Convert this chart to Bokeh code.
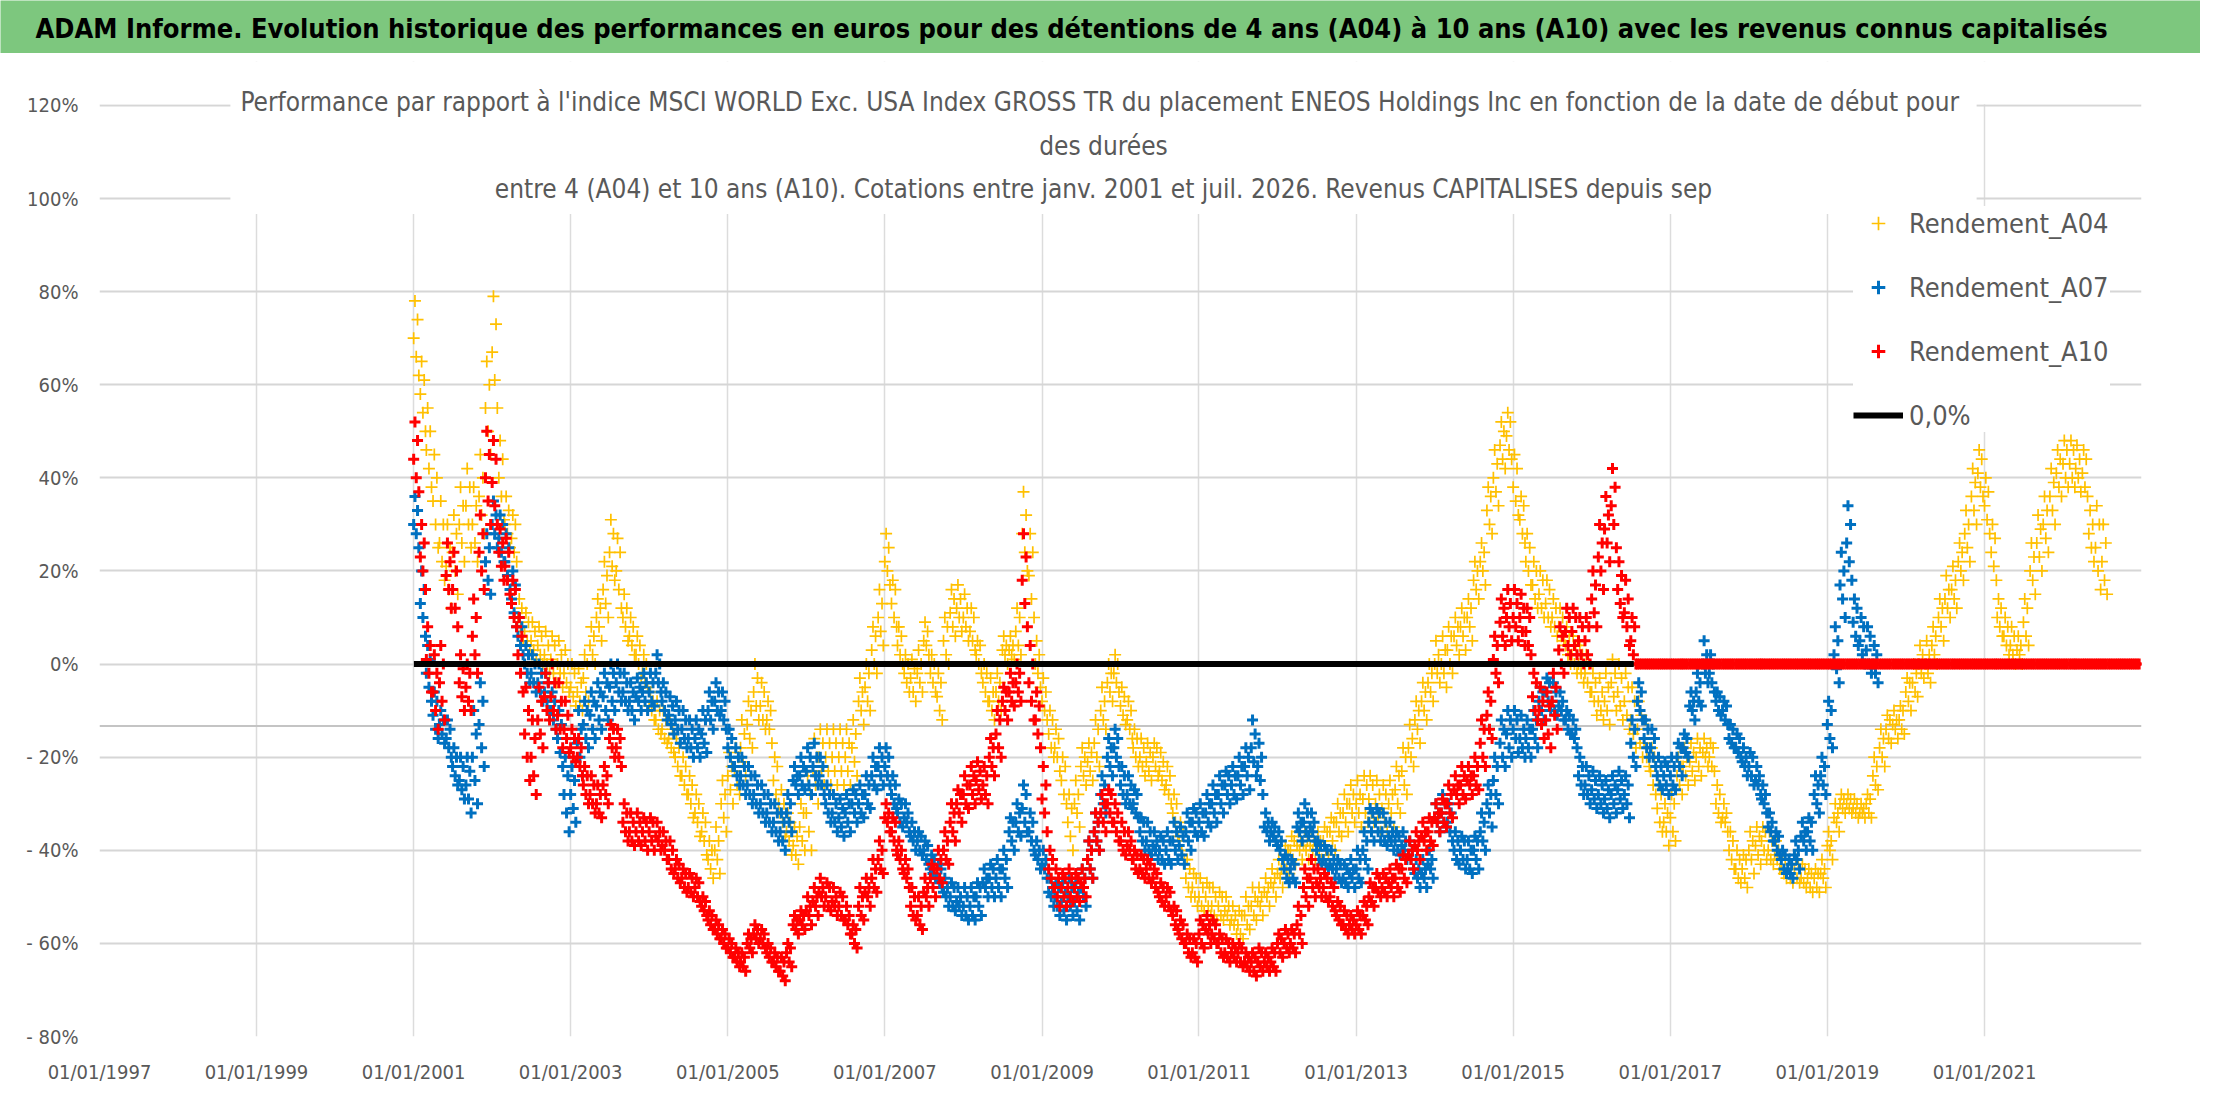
import pandas as pd
from bokeh.plotting import figure
from bokeh.layouts import column
from bokeh.models import (Range1d, FixedTicker, DatetimeTickFormatter, Label, BoxAnnotation,
                          Legend, LegendItem, Span, ColumnDataSource)
from bokeh.embed import file_html
from bokeh.resources import INLINE

FONT = "DejaVu Sans Condensed"
GREEN = "#7dc77e"
GREY_TXT = "#595959"
YELLOW, BLUE, RED = "#FFC000", "#0070C0", "#FF0000"

title_txt = ("ADAM Informe. Evolution historique des performances en euros pour des "
             "détentions de 4 ans (A04) à 10 ans (A10) avec les revenus connus capitalisés")
sub_txt = ("Performance par rapport à l'indice MSCI WORLD Exc. USA Index GROSS TR  du placement "
           "ENEOS Holdings Inc en fonction de la date de début pour\ndes durées\n"
           "entre 4 (A04) et 10 ans (A10). Cotations entre janv. 2001 et juil. 2026. "
           "Revenus CAPITALISES depuis sep")

y_ticks = [-80, -60, -40, -20, 0, 20, 40, 60, 80, 100, 120]
y_labels = ["- 80%", "- 60%", "- 40%", "- 20%", "0%", "20%", "40%", "60%", "80%", "100%", "120%"]
x_tick_years = [1997, 1999, 2001, 2003, 2005, 2007, 2009, 2011, 2013, 2015, 2017, 2019, 2021]

# monthly readings (%) across the height of each cloud: top, upper, middle, lower, bottom.
# first month = 2001-01, one row per year
a04_hi = [
    78, 65, 55, 45, 35, 30, 32, 38, 42, 38, 45, 65,
    79, 48, 36, 32, 14, 11, 9, 8, 7, 6, 5, 3,
    0, -1, 2, 8, 14, 22, 31, 27, 15, 10, 6, 2,
    -6, -8, -10, -12, -16, -20, -24, -28, -32, -38, -35, -25,
    -19, -18, -12, -8, 0, -4, -8, -20, -27, -32, -35, -30,
    -24, -16, -14, -14, -14, -14, -14, -12, -3, 0, 8, 16,
    28, 18, 8, 2, 1, 3, 9, 2, -2, 10, 16, 17,
    15, 12, 5, 0, -3, -2, 6, 6, 12, 37, 28, 5,
    -3, -10, -14, -20, -28, -25, -18, -17, -12, -5, 0, 2,
    -5, -8, -14, -16, -17, -17, -19, -22, -28, -34, -42, -45,
    -46, -47, -48, -49, -50, -52, -53, -50, -48, -48, -46, -44,
    -42, -39, -37, -36, -36, -36, -36, -35, -33, -30, -28, -26,
    -25, -24, -24, -25, -26, -25, -22, -18, -13, -8, -4, 0,
    5, 6, 8, 10, 12, 14, 22, 26, 38, 46, 52, 54,
    45, 36, 28, 22, 20, 18, 14, 12, 8, 6, 4, 2,
    -2, -3, -2, 1, 0, -2, -5, -8, -12, -18, -26, -30,
    -28, -20, -18, -17, -16, -16, -17, -26, -30, -36, -40, -41,
    -36, -35, -35, -36, -38, -41, -42, -42, -43, -44, -44, -42,
    -36, -30, -28, -28, -29, -30, -28, -20, -14, -11, -10, -9,
    -3, 0, 4, 5, 8, 14, 19, 21, 26, 33, 42, 46,
    40, 30, 14, 10, 8, 6, 14, 26, 32, 36, 42, 46,
    48, 48, 47, 46, 33, 34, 30,
]
a04_uq = [
    74, 61, 50, 40, 30, 25, 28, 34, 38, 34, 40, 60,
    73, 44, 33, 30, 12, 9, 7, 6, 4, 4, 2, 0,
    -2, -4, 0, 6, 12, 19, 28, 24, 12, 8, 4, 0,
    -8, -10, -12, -14, -18, -22, -26, -30, -34, -40, -38, -28,
    -22, -20, -15, -10, -3, -6, -10, -22, -30, -34, -37, -32,
    -28, -20, -17, -17, -17, -17, -17, -15, -6, -2, 6, 13,
    25, 16, 6, 0, -1, 0, 7, 0, -4, 8, 14, 14,
    12, 10, 4, -2, -6, -4, 4, 4, 10, 32, 24, 2,
    -6, -12, -16, -22, -31, -28, -20, -19, -14, -8, -2, 0,
    -7, -10, -16, -18, -19, -18, -21, -24, -30, -36, -44, -46,
    -48, -48, -50, -50, -52, -54, -54, -52, -50, -50, -48, -46,
    -44, -40, -38, -38, -38, -38, -38, -36, -34, -32, -30, -28,
    -28, -26, -26, -28, -28, -28, -24, -20, -16, -10, -6, -2,
    2, 3, 6, 8, 10, 12, 20, 24, 36, 43, 50, 52,
    42, 34, 25, 20, 18, 16, 12, 10, 6, 4, 2, 0,
    -4, -6, -5, -2, -3, -5, -8, -11, -14, -20, -28, -32,
    -30, -22, -20, -19, -18, -18, -18, -28, -32, -38, -42, -42,
    -38, -37, -36, -38, -40, -42, -43, -43, -44, -45, -45, -44,
    -38, -32, -29, -29, -30, -31, -29, -22, -16, -12, -12, -10,
    -4, -2, 2, 2, 6, 12, 16, 18, 24, 30, 39, 44,
    37, 27, 12, 8, 6, 4, 12, 23, 29, 33, 39, 44,
    46, 46, 44, 44, 30, 30, 26,
]
a04_mid = [
    70, 58, 46, 35, 26, 21, 24, 30, 34, 30, 36, 55,
    67, 40, 30, 27, 10, 7, 5, 4, 2, 1, 0, -2,
    -5, -6, -3, 4, 10, 16, 24, 20, 10, 6, 2, -2,
    -9, -12, -14, -16, -20, -24, -28, -32, -36, -42, -40, -30,
    -24, -23, -18, -13, -6, -9, -12, -25, -32, -36, -39, -35,
    -32, -23, -20, -20, -20, -20, -20, -18, -8, -5, 3, 10,
    22, 13, 4, -2, -3, -2, 5, -2, -7, 5, 11, 12,
    10, 7, 2, -4, -8, -6, 3, 3, 7, 28, 19, 0,
    -8, -15, -18, -25, -34, -30, -22, -21, -17, -10, -4, -2,
    -9, -12, -18, -20, -21, -20, -23, -26, -32, -38, -46, -48,
    -50, -50, -52, -52, -53, -55, -56, -54, -52, -51, -49, -47,
    -45, -42, -40, -39, -39, -39, -39, -38, -36, -34, -32, -30,
    -30, -29, -29, -30, -31, -30, -27, -23, -18, -12, -8, -4,
    0, 0, 3, 6, 8, 10, 18, 22, 33, 40, 47, 49,
    38, 31, 22, 17, 15, 13, 10, 8, 4, 2, 0, -2,
    -6, -8, -8, -4, -6, -8, -12, -14, -17, -23, -31, -34,
    -33, -24, -22, -21, -20, -19, -20, -30, -33, -40, -44, -44,
    -40, -39, -38, -40, -41, -44, -44, -44, -46, -46, -46, -45,
    -39, -33, -30, -30, -31, -32, -30, -24, -18, -14, -13, -12,
    -6, -4, 0, 0, 4, 10, 14, 16, 22, 28, 36, 41,
    34, 24, 10, 6, 4, 3, 9, 20, 26, 30, 36, 41,
    43, 43, 42, 41, 28, 25, 22,
]
a04_lq = [
    66, 54, 42, 30, 22, 16, 20, 26, 30, 26, 32, 50,
    61, 36, 28, 24, 8, 5, 3, 2, 0, -2, -2, -4,
    -7, -8, -6, 2, 8, 13, 21, 16, 8, 4, 0, -4,
    -10, -14, -16, -18, -22, -26, -30, -34, -38, -44, -42, -33,
    -27, -26, -21, -16, -9, -12, -14, -28, -34, -38, -41, -38,
    -36, -26, -23, -23, -23, -23, -23, -21, -10, -8, 0, 7,
    20, 10, 2, -4, -6, -4, 4, -4, -10, 2, 8, 10,
    8, 5, 0, -6, -10, -8, 2, 2, 4, 24, 14, -2,
    -10, -18, -20, -28, -37, -32, -24, -23, -20, -12, -6, -4,
    -11, -14, -20, -22, -23, -22, -25, -28, -34, -40, -48, -50,
    -52, -52, -54, -54, -54, -56, -58, -56, -54, -52, -50, -48,
    -46, -44, -42, -40, -40, -40, -40, -40, -38, -36, -34, -32,
    -32, -32, -32, -33, -34, -32, -30, -26, -20, -14, -10, -6,
    -2, -2, 0, 4, 6, 8, 16, 20, 30, 37, 44, 46,
    35, 28, 20, 14, 12, 10, 8, 6, 2, 0, -2, -4,
    -8, -10, -10, -7, -9, -11, -15, -17, -20, -26, -34, -36,
    -36, -26, -24, -23, -22, -20, -22, -32, -34, -42, -46, -46,
    -42, -41, -40, -42, -42, -45, -46, -46, -47, -48, -48, -46,
    -40, -34, -31, -31, -32, -32, -32, -26, -20, -16, -14, -14,
    -8, -6, -2, -2, 2, 8, 12, 14, 20, 25, 33, 38,
    31, 21, 8, 4, 2, 2, 6, 18, 23, 27, 33, 38,
    40, 40, 40, 38, 25, 20, 18,
]
a04_lo = [
    62, 50, 38, 25, 18, 12, 15, 22, 25, 22, 28, 45,
    55, 31, 25, 22, 5, 3, 1, 0, -2, -4, -5, -6,
    -9, -10, -8, 0, 5, 10, 18, 12, 5, 2, -3, -5,
    -12, -15, -17, -19, -24, -28, -33, -37, -41, -46, -45, -36,
    -30, -28, -24, -18, -12, -14, -17, -30, -37, -41, -43, -40,
    -40, -30, -26, -26, -26, -26, -26, -24, -13, -10, -2, 4,
    17, 8, 0, -6, -8, -6, 2, -6, -12, 0, 6, 7,
    5, 3, -2, -8, -12, -10, 0, 1, 2, 20, 10, -5,
    -12, -20, -23, -30, -40, -35, -26, -25, -22, -14, -8, -6,
    -13, -16, -22, -24, -25, -24, -27, -30, -37, -42, -50, -52,
    -53, -54, -55, -55, -56, -58, -59, -57, -55, -54, -52, -50,
    -48, -45, -43, -42, -42, -42, -42, -41, -40, -37, -36, -34,
    -35, -34, -34, -36, -36, -35, -32, -28, -22, -17, -12, -8,
    -4, -5, -2, 2, 3, 5, 14, 17, 28, 34, 42, 44,
    32, 26, 17, 12, 10, 8, 6, 5, 0, -2, -4, -6,
    -11, -12, -13, -10, -12, -14, -18, -20, -22, -28, -36, -39,
    -38, -28, -26, -25, -24, -22, -23, -34, -36, -44, -47, -48,
    -45, -43, -42, -43, -44, -46, -47, -47, -48, -49, -49, -48,
    -42, -36, -32, -32, -33, -33, -33, -27, -22, -17, -16, -15,
    -10, -7, -3, -4, 0, 5, 10, 12, 18, 22, 30, 36,
    28, 18, 6, 2, 0, 0, 4, 15, 20, 24, 30, 36,
    38, 38, 37, 36, 22, 16, 15,
]

a07_hi = [
    36, 20, 4, -6, -10, -12, -18, -20, -20, -10, -4, 28,
    35, 32, 28, 20, 10, 4, 2, 0, -2, -6, -10, -20,
    -22, -10, -8, -6, -4, -2, 0, 0, -2, -4, -3, -2,
    -2, 2, -4, -7, -8, -10, -12, -12, -10, -6, -4, -6,
    -14, -18, -20, -22, -24, -26, -28, -30, -32, -28, -22, -20,
    -18, -17, -20, -26, -28, -29, -28, -27, -26, -24, -20, -18,
    -18, -24, -29, -30, -34, -36, -38, -41, -43, -46, -47, -48,
    -48, -48, -47, -44, -43, -42, -40, -33, -30, -26, -32, -38,
    -40, -46, -47, -47, -46, -47, -44, -38, -32, -24, -16, -14,
    -22, -24, -27, -33, -34, -36, -37, -36, -34, -35, -32, -31,
    -30, -28, -26, -24, -23, -22, -20, -18, -12, -17, -32, -34,
    -36, -41, -42, -32, -30, -32, -38, -39, -40, -42, -43, -42,
    -40, -36, -31, -31, -32, -34, -36, -36, -38, -42, -42, -40,
    -30, -28, -30, -36, -37, -38, -37, -32, -26, -20, -12, -10,
    -10, -11, -12, -10, -5, -3, -4, -6, -10, -12, -20, -22,
    -23, -24, -25, -24, -23, -24, -12, -4, -12, -14, -20, -21,
    -20, -17, -15, -6, -2, 5, 2, -6, -8, -13, -15, -18,
    -19, -22, -26, -32, -36, -40, -42, -38, -34, -33, -24, -20,
    -8, 8, 24, 34, 14, 10, 8, 4,
]
a07_uq = [
    33, 16, 1, -8, -12, -14, -20, -22, -23, -15, -8, 25,
    32, 30, 25, 17, 8, 2, 0, -2, -4, -8, -13, -24,
    -25, -14, -10, -8, -6, -4, -2, -2, -4, -6, -5, -4,
    -4, 0, -6, -9, -10, -12, -14, -14, -12, -8, -6, -8,
    -16, -20, -22, -24, -26, -28, -30, -32, -34, -30, -24, -22,
    -20, -20, -22, -28, -30, -31, -30, -28, -28, -26, -22, -20,
    -20, -26, -30, -32, -36, -37, -39, -42, -44, -48, -48, -50,
    -50, -50, -48, -46, -44, -44, -42, -34, -32, -28, -34, -40,
    -42, -48, -48, -49, -48, -49, -46, -40, -34, -26, -18, -16,
    -24, -26, -28, -34, -36, -38, -38, -38, -36, -37, -34, -32,
    -32, -30, -28, -26, -24, -24, -22, -20, -15, -20, -34, -35,
    -38, -42, -43, -34, -32, -34, -39, -40, -42, -43, -44, -44,
    -42, -38, -32, -32, -34, -36, -37, -38, -40, -44, -44, -42,
    -32, -30, -32, -38, -38, -40, -38, -34, -28, -22, -14, -12,
    -12, -14, -14, -12, -6, -4, -6, -8, -11, -14, -22, -24,
    -25, -26, -27, -26, -25, -26, -14, -6, -14, -16, -22, -22,
    -22, -18, -16, -8, -4, 2, 0, -7, -9, -14, -16, -20,
    -20, -24, -28, -34, -37, -41, -43, -40, -36, -34, -26, -22,
    -10, 5, 20, 30, 12, 8, 6, 2,
]
a07_mid = [
    30, 13, -2, -11, -13, -16, -22, -25, -26, -20, -13, 22,
    30, 27, 22, 14, 6, 0, -2, -4, -6, -10, -16, -28,
    -28, -17, -13, -11, -9, -7, -5, -4, -6, -8, -7, -6,
    -6, -2, -8, -11, -12, -14, -16, -16, -15, -10, -8, -10,
    -18, -22, -24, -26, -28, -30, -32, -34, -36, -32, -25, -24,
    -23, -22, -24, -30, -32, -33, -32, -30, -30, -28, -24, -22,
    -22, -28, -32, -33, -37, -38, -40, -44, -46, -49, -50, -51,
    -52, -52, -50, -47, -46, -46, -44, -36, -34, -31, -36, -41,
    -43, -49, -50, -51, -50, -51, -48, -42, -36, -28, -20, -18,
    -26, -28, -30, -36, -38, -39, -40, -40, -38, -39, -36, -34,
    -34, -32, -30, -28, -26, -26, -24, -22, -18, -22, -35, -36,
    -39, -44, -44, -35, -34, -35, -40, -42, -43, -44, -46, -45,
    -44, -40, -34, -34, -36, -37, -38, -39, -41, -45, -45, -43,
    -33, -32, -34, -40, -40, -42, -40, -36, -30, -25, -17, -15,
    -14, -16, -16, -14, -8, -6, -8, -9, -12, -15, -24, -26,
    -27, -28, -29, -28, -27, -28, -17, -8, -16, -18, -24, -24,
    -24, -20, -18, -9, -6, 0, -2, -8, -10, -16, -18, -21,
    -22, -25, -29, -35, -38, -42, -44, -41, -37, -36, -28, -24,
    -13, 2, 17, 26, 9, 5, 3, 0,
]
a07_lq = [
    28, 10, -5, -14, -15, -18, -24, -27, -29, -25, -18, 18,
    28, 24, 19, 11, 4, -2, -4, -6, -8, -12, -19, -32,
    -31, -20, -16, -14, -12, -10, -8, -6, -8, -10, -8, -8,
    -8, -4, -10, -13, -14, -16, -18, -18, -17, -12, -10, -12,
    -20, -24, -26, -28, -30, -32, -34, -36, -38, -34, -26, -26,
    -26, -24, -26, -32, -34, -35, -34, -32, -32, -30, -26, -24,
    -24, -30, -34, -34, -38, -40, -42, -45, -47, -50, -52, -52,
    -54, -54, -52, -48, -48, -48, -46, -38, -36, -34, -38, -42,
    -44, -50, -52, -53, -52, -53, -50, -44, -38, -30, -22, -20,
    -28, -30, -32, -38, -40, -40, -42, -42, -40, -41, -38, -36,
    -36, -34, -32, -30, -28, -28, -26, -24, -21, -25, -36, -37,
    -40, -46, -46, -36, -36, -36, -42, -43, -44, -46, -47, -46,
    -46, -42, -36, -36, -38, -38, -40, -40, -42, -46, -46, -44,
    -34, -34, -36, -42, -42, -44, -42, -38, -32, -28, -20, -18,
    -16, -18, -18, -16, -10, -8, -10, -10, -14, -16, -26, -28,
    -29, -30, -31, -30, -29, -30, -20, -10, -18, -20, -26, -26,
    -26, -22, -19, -10, -8, -2, -4, -10, -12, -17, -19, -22,
    -24, -26, -30, -36, -40, -44, -45, -42, -38, -38, -30, -26,
    -16, -1, 14, 22, 6, 2, 0, -2,
]
a07_lo = [
    25, 6, -8, -16, -17, -20, -26, -29, -32, -30, -22, 15,
    25, 22, 16, 8, 2, -4, -6, -8, -10, -14, -22, -36,
    -34, -24, -18, -16, -14, -12, -10, -8, -10, -12, -10, -10,
    -9, -6, -12, -15, -17, -18, -20, -20, -19, -14, -11, -14,
    -22, -26, -28, -30, -32, -34, -36, -38, -40, -36, -28, -27,
    -28, -26, -28, -34, -36, -37, -36, -34, -33, -31, -27, -26,
    -26, -31, -35, -36, -40, -41, -43, -46, -48, -52, -53, -54,
    -55, -55, -54, -50, -50, -50, -48, -40, -37, -36, -40, -44,
    -46, -52, -54, -55, -54, -55, -52, -46, -40, -32, -24, -22,
    -30, -31, -33, -40, -41, -42, -43, -43, -42, -43, -40, -37,
    -37, -35, -34, -32, -30, -29, -28, -27, -24, -28, -38, -38,
    -42, -47, -47, -38, -37, -38, -43, -44, -46, -47, -48, -48,
    -47, -44, -38, -38, -39, -40, -41, -42, -44, -48, -48, -46,
    -36, -35, -38, -43, -44, -45, -44, -40, -35, -30, -22, -20,
    -19, -20, -20, -18, -12, -10, -11, -12, -15, -18, -28, -30,
    -31, -32, -33, -32, -31, -33, -22, -12, -20, -22, -27, -28,
    -27, -24, -20, -12, -9, -4, -6, -11, -13, -18, -20, -24,
    -26, -28, -32, -38, -41, -45, -46, -44, -40, -40, -32, -28,
    -18, -4, 10, 18, 4, 0, -2, -4,
]

a10_hi = [
    52, 30, 8, 2, 4, 26, 24, 2, 0, 14, 32, 50,
    48, 29, 27, 18, 10, -5, -12, -5, -2, 0, -4, -8,
    -14, -16, -22, -24, -26, -22, -13, -14, -30, -32, -32, -33,
    -33, -34, -36, -38, -42, -44, -45, -46, -50, -53, -55, -57,
    -59, -61, -62, -58, -56, -57, -60, -62, -63, -60, -54, -53,
    -50, -48, -46, -47, -48, -49, -52, -56, -48, -46, -42, -38,
    -30, -33, -38, -42, -48, -50, -46, -43, -40, -36, -30, -27,
    -24, -22, -21, -22, -16, -10, -5, -2, 0, 28, 4, -6,
    -22, -40, -44, -45, -44, -45, -44, -38, -32, -28, -27, -30,
    -34, -36, -40, -41, -42, -44, -47, -48, -52, -55, -58, -59,
    -55, -54, -55, -58, -59, -60, -60, -62, -62, -61, -62, -61,
    -58, -57, -57, -52, -44, -42, -44, -45, -47, -51, -53, -54,
    -53, -51, -47, -45, -45, -44, -43, -41, -38, -36, -34, -33,
    -30, -29, -26, -24, -22, -22, -20, -12, -6, 6, 14, 16,
    16, 15, 12, -2, -5, -6, -2, 8, 12, 12, 10, 10,
    20, 30, 36, 42, 22, 18, 10,
]
a10_uq = [
    48, 26, 4, -2, 0, 22, 20, -1, -2, 10, 28, 45,
    44, 26, 24, 16, 6, -10, -16, -8, -4, -4, -8, -11,
    -16, -18, -24, -26, -28, -24, -14, -16, -32, -34, -34, -34,
    -34, -36, -38, -40, -43, -45, -46, -47, -51, -54, -56, -58,
    -60, -62, -63, -59, -57, -58, -61, -63, -64, -61, -55, -54,
    -52, -50, -48, -48, -50, -50, -54, -57, -50, -48, -44, -40,
    -32, -34, -40, -44, -50, -52, -48, -44, -42, -38, -32, -28,
    -26, -24, -23, -24, -18, -12, -6, -4, -2, 23, 0, -9,
    -26, -42, -46, -46, -46, -46, -46, -40, -34, -30, -28, -32,
    -36, -38, -41, -42, -43, -45, -48, -49, -53, -56, -59, -60,
    -56, -56, -56, -59, -60, -61, -61, -63, -63, -62, -63, -62,
    -59, -58, -58, -54, -46, -44, -46, -46, -48, -52, -54, -55,
    -54, -52, -48, -46, -46, -46, -44, -42, -40, -38, -36, -34,
    -32, -30, -28, -26, -24, -24, -22, -14, -8, 4, 12, 13,
    13, 12, 10, -4, -8, -9, -5, 6, 10, 10, 8, 8,
    17, 26, 32, 38, 19, 14, 8,
]
a10_mid = [
    44, 23, 1, -6, -4, 19, 16, -4, -5, 6, 24, 40,
    39, 24, 21, 13, 2, -15, -20, -12, -7, -7, -11, -14,
    -18, -20, -26, -28, -30, -26, -16, -18, -34, -36, -36, -36,
    -36, -37, -39, -42, -44, -46, -48, -48, -52, -55, -57, -59,
    -61, -63, -64, -60, -58, -59, -62, -64, -66, -62, -56, -55,
    -53, -51, -49, -50, -51, -52, -55, -58, -52, -49, -46, -42,
    -33, -36, -41, -45, -52, -54, -49, -46, -44, -40, -34, -30,
    -28, -26, -25, -26, -20, -15, -8, -6, -4, 18, -4, -12,
    -29, -44, -48, -48, -48, -48, -47, -42, -36, -32, -30, -34,
    -38, -39, -42, -44, -44, -46, -50, -50, -54, -58, -60, -62,
    -58, -57, -58, -60, -62, -62, -62, -64, -64, -64, -64, -64,
    -60, -60, -60, -56, -48, -46, -47, -48, -50, -54, -56, -56,
    -56, -54, -50, -48, -48, -47, -46, -44, -41, -39, -37, -36,
    -33, -32, -30, -27, -26, -25, -24, -17, -11, 1, 9, 10,
    10, 10, 7, -7, -10, -12, -8, 3, 7, 7, 5, 5,
    14, 23, 29, 34, 16, 11, 5,
]
a10_lq = [
    40, 20, -2, -10, -8, 16, 12, -7, -8, 2, 20, 35,
    34, 21, 18, 10, -2, -20, -24, -15, -10, -10, -14, -16,
    -20, -22, -28, -30, -32, -28, -18, -20, -36, -38, -38, -38,
    -38, -38, -40, -44, -46, -48, -49, -50, -53, -56, -58, -60,
    -62, -64, -65, -61, -59, -60, -63, -65, -67, -64, -57, -56,
    -54, -52, -50, -52, -52, -54, -56, -60, -54, -50, -48, -44,
    -34, -38, -42, -46, -54, -56, -50, -48, -46, -42, -36, -32,
    -30, -28, -27, -28, -22, -18, -10, -8, -6, 13, -8, -15,
    -32, -46, -50, -50, -50, -50, -48, -44, -38, -34, -32, -36,
    -40, -40, -44, -45, -46, -48, -51, -52, -56, -59, -62, -63,
    -60, -58, -59, -62, -63, -63, -64, -65, -66, -65, -65, -65,
    -62, -61, -61, -58, -50, -48, -48, -50, -52, -55, -57, -57,
    -57, -55, -51, -49, -49, -48, -48, -46, -42, -40, -38, -38,
    -34, -34, -32, -28, -28, -26, -26, -20, -14, -2, 6, 8,
    8, 7, 4, -10, -13, -15, -11, 0, 4, 4, 2, 2,
    11, 20, 26, 30, 13, 8, 2,
]
a10_lo = [
    37, 16, -6, -14, -12, 12, 8, -10, -10, -2, 16, 30,
    30, 18, 15, 8, -6, -25, -28, -18, -12, -14, -18, -19,
    -21, -24, -30, -32, -33, -30, -20, -22, -38, -39, -39, -40,
    -40, -40, -42, -45, -47, -49, -50, -51, -54, -57, -59, -61,
    -63, -65, -66, -62, -60, -61, -64, -66, -68, -65, -58, -57,
    -56, -54, -52, -53, -54, -55, -58, -61, -55, -52, -49, -45,
    -36, -40, -44, -48, -55, -57, -52, -50, -47, -43, -38, -34,
    -31, -30, -29, -30, -24, -20, -12, -9, -8, 8, -12, -18,
    -36, -48, -52, -52, -51, -51, -50, -46, -40, -36, -34, -38,
    -41, -42, -45, -46, -47, -49, -52, -53, -57, -60, -63, -64,
    -61, -60, -60, -63, -64, -64, -65, -66, -67, -66, -66, -66,
    -63, -62, -62, -60, -52, -50, -50, -51, -53, -56, -58, -58,
    -58, -56, -52, -50, -50, -50, -49, -47, -44, -42, -40, -39,
    -36, -35, -33, -30, -29, -28, -27, -22, -16, -4, 4, 5,
    5, 4, 2, -12, -16, -18, -14, -2, 2, 2, 0, 0,
    8, 16, 22, 25, 10, 4, 0,
]
# A10 after 2016-08: no more 10-year window, plotted at 0
a10_tail = [
    0, 0, 0, 0, 0,
    0, 0, 0, 0, 0, 0, 0, 0, 0, 0, 0, 0,
    0, 0, 0, 0, 0, 0, 0, 0, 0, 0, 0, 0,
    0, 0, 0, 0, 0, 0, 0, 0, 0, 0, 0, 0,
    0, 0, 0, 0, 0, 0, 0, 0, 0, 0, 0, 0,
    0, 0, 0, 0, 0, 0, 0, 0, 0, 0, 0, 0,
    0, 0, 0, 0, 0, 0, 0, 0, 0, 0, 0, 0,
]
zero_x = ["2001-01-02", "2016-07-15"]
zero_y = [0, 0]


def months(start, n, day):
    return list(pd.date_range(start, periods=n, freq="MS") + pd.Timedelta(days=day))


def cloud(start, hi, uq, mid, lq, lo):
    # each reading of a month is placed on its own day so the cloud zigzags
    xs, ys = [], []
    for vals, day in ((mid, 0), (hi, 6), (lq, 12), (uq, 18), (lo, 24)):
        xs += months(start, len(vals), day)
        ys += vals
    return ColumnDataSource(dict(x=xs, y=ys))


def no_align(fig):
    if "frame_align" in fig.properties():
        fig.frame_align = False


# ---- header bar
head = figure(width=2200, height=53, x_range=(0, 1), y_range=(0, 1), title=None,
              x_axis_location=None, y_axis_location=None, min_border=0,
              output_backend="svg", toolbar_location=None)
no_align(head)
head.grid.visible = False
head.background_fill_color = GREEN
head.border_fill_color = GREEN
head.outline_line_color = None
head.add_layout(Label(x=35, y=25, x_units="screen", y_units="screen", text=title_txt,
                      text_font=FONT, text_font_size="27px", text_font_style="bold",
                      text_color="black", text_baseline="middle"))

# ---- chart (frame reaches above 120% so that the title box is not clipped)
p = figure(width=2200, height=1033, x_axis_type="datetime", title=None,
           x_range=Range1d(pd.Timestamp("1997-01-01"), pd.Timestamp("2023-01-01")),
           y_range=Range1d(-80, 129.43),
           min_border_left=99, min_border_right=59, min_border_top=8, min_border_bottom=48,
           output_backend="svg", toolbar_location=None)
no_align(p)
p.outline_line_color = None
p.background_fill_color = "white"
p.border_fill_color = "white"

p.xaxis.ticker = FixedTicker(ticks=[pd.Timestamp(f"{y}-01-01").timestamp() * 1000 for y in x_tick_years])
p.xaxis.formatter = DatetimeTickFormatter(days="%d/%m/%Y", months="%d/%m/%Y", years="%d/%m/%Y")
p.yaxis.ticker = FixedTicker(ticks=y_ticks)
p.yaxis.major_label_overrides = dict(zip(y_ticks, y_labels))
for ax in (p.xaxis, p.yaxis):
    ax.axis_line_color = None
    ax.major_tick_line_color = None
    ax.minor_tick_line_color = None
    ax.major_label_text_font = FONT
    ax.major_label_text_font_size = "20px"
    ax.major_label_text_color = GREY_TXT
p.yaxis.major_label_standoff = 15
p.xaxis.major_label_standoff = 17
p.xgrid.grid_line_color = "#dcdcdc"
p.xgrid.grid_line_width = 1.5
p.ygrid.grid_line_color = "#d6d6d6"
p.ygrid.grid_line_width = 2

# hide the grid above the 120% line
p.add_layout(BoxAnnotation(bottom=120.25, fill_color="white", fill_alpha=1,
                           line_color=None, level="underlay"))
p.add_layout(Span(location=-13.3, dimension="width", line_color="#c4c4c4",
                  line_width=2, level="underlay"))

r04 = p.scatter("x", "y", source=cloud("2001-01-01", a04_hi, a04_uq, a04_mid, a04_lq, a04_lo),
                marker="cross", size=12, line_width=1.7, color=YELLOW)
r07 = p.scatter("x", "y", source=cloud("2001-01-01", a07_hi, a07_uq, a07_mid, a07_lq, a07_lo),
                marker="cross", size=11, line_width=3, color=BLUE)
r10 = p.scatter("x", "y", source=cloud("2001-01-01", a10_hi, a10_uq, a10_mid, a10_lq, a10_lo),
                marker="cross", size=11, line_width=3, color=RED)
tail = ColumnDataSource(dict(
    x=months("2016-08-01", len(a10_tail), 0) + months("2016-08-01", len(a10_tail), 10)
    + months("2016-08-01", len(a10_tail), 20),
    y=a10_tail * 3))
p.scatter("x", "y", source=tail, marker="cross", size=11, line_width=3, color=RED)
r0 = p.line(pd.to_datetime(zero_x), zero_y, line_color="black", line_width=6)

p.add_layout(Label(x=1004, y=891, x_units="screen", y_units="screen", text=sub_txt,
                   text_align="center", text_baseline="middle", text_font=FONT,
                   text_font_size="26px", text_color=GREY_TXT, text_line_height=1.45,
                   background_fill_color="white", padding=10))

legend = Legend(items=[LegendItem(label="Rendement_A04", renderers=[r04]),
                       LegendItem(label="Rendement_A07", renderers=[r07]),
                       LegendItem(label="Rendement_A10", renderers=[r10]),
                       LegendItem(label="0,0%", renderers=[r0])],
                location=(1754, 604), margin=0, padding=15, spacing=30,
                glyph_height=34, glyph_width=50, label_height=34, label_standoff=6,
                label_width=201, label_text_font=FONT, label_text_font_size="27px",
                label_text_color=GREY_TXT, background_fill_color="white",
                background_fill_alpha=1, border_line_color=None)
p.add_layout(legend)

page = column(head, p, spacing=0)
open("out.html", "w").write(file_html(page, INLINE))
